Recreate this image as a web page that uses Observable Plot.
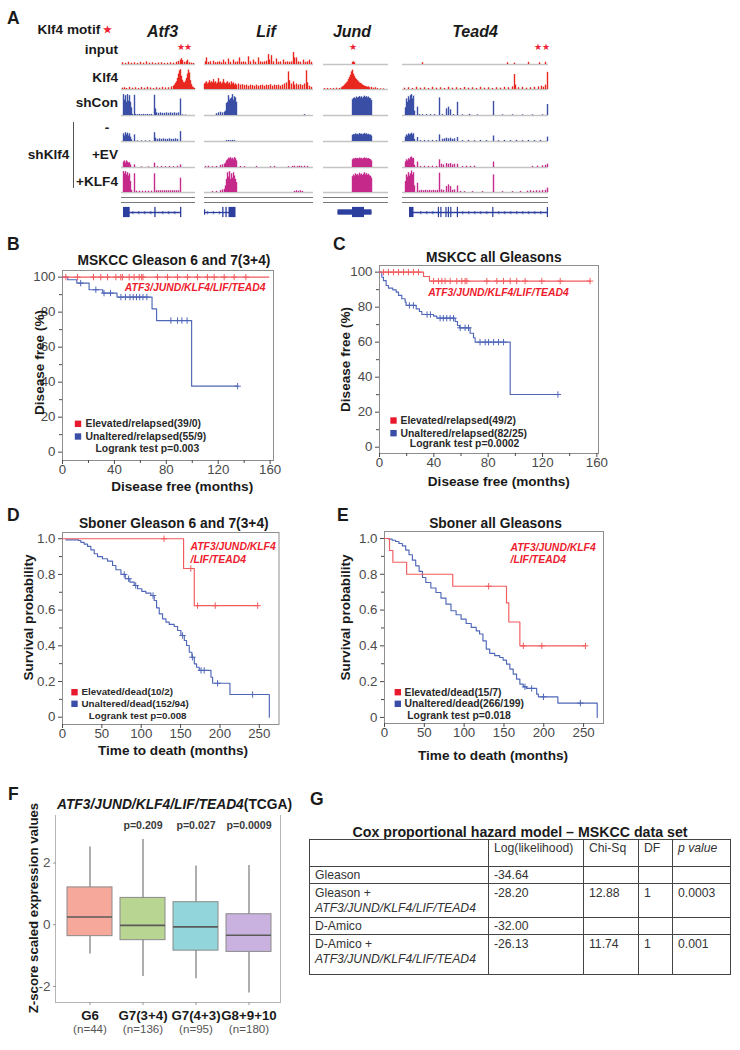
<!DOCTYPE html>
<html>
<head>
<meta charset="utf-8">
<script src="https://cdn.jsdelivr.net/npm/d3@7"></script>
<script src="https://cdn.jsdelivr.net/npm/@observablehq/plot@0.6"></script>
<style>
html,body{margin:0;padding:0;background:#fff;}
#root{position:relative;width:740px;height:1050px;overflow:hidden;font-family:"Liberation Sans",Arial,Helvetica,sans-serif;}
#root svg{position:absolute;}
table.cox{border-collapse:collapse;table-layout:fixed;position:absolute;border:1.5px solid #333;}
table.cox td{border:1px solid #444;vertical-align:top;padding:1px 3px 0 5px;font-size:12.2px;line-height:14.5px;color:#333;white-space:nowrap;overflow:hidden;font-family:"Liberation Sans",Arial,sans-serif;}
</style>
</head>
<body>
<div id="root"></div>
<script>
// ======================= DATA =======================
// ---- Panel A: ChIP/RNA coverage tracks, [locus bin, relative height] ----
const aGenes = ["Atf3", "Lif", "Jund", "Tead4"];
const aTracks = ["input", "Klf4", "shCon", "-", "+EV", "+KLF4"];
const aBins = [74, 109, 65, 146];
const aMotifs = [[59, 66], [], [29], [135, 143]];

const atf3Input = [[1,0.08],[4,0.05],[7,0.1],[10,0.06],[13,0.08],[16,0.05],[19,0.1],[22,0.06],[25,0.12],[28,0.06],[31,0.08],[34,0.05],[37,0.07],[40,0.08],[43,0.05],[46,0.06],[49,0.08],[52,0.06],[55,0.1],[57,0.14],[59,0.2],[60,0.26],[61,0.18],[63,0.1],[65,0.12],[66,0.2],[68,0.08],[70,0.06],[72,0.05]];
const atf3Klf4 = [[1,0.06],[3,0.08],[5,0.05],[8,0.1],[11,0.06],[14,0.08],[17,0.05],[20,0.09],[23,0.06],[26,0.1],[29,0.07],[32,0.05],[35,0.08],[38,0.06],[41,0.1],[44,0.07],[47,0.08],[50,0.12],[52,0.15],[53,0.2],[54,0.28],[55,0.35],[56,0.5],[57,0.7],[58,0.85],[59,0.9],[60,0.6],[61,0.42],[62,0.32],[63,0.3],[64,0.38],[65,0.5],[66,0.7],[67,0.88],[68,0.75],[69,0.4],[70,0.22],[71,0.12],[72,0.08],[73,0.05]];
const atf3ShCon = [[2,0.95],[3,0.7],[4,0.9],[5,0.6],[6,0.95],[7,0.65],[8,0.9],[9,0.6],[10,0.35],[11,0.05],[13,0.92],[14,0.05],[16,0.04],[18,0.05],[20,0.04],[22,0.05],[24,0.04],[26,0.05],[28,0.04],[30,0.05],[33,0.92],[34,0.3],[35,0.12],[37,0.1],[39,0.12],[41,0.1],[43,0.1],[45,0.12],[47,0.1],[49,0.12],[51,0.1],[53,0.12],[55,0.1],[57,0.12],[59,0.75],[61,0.03],[64,0.02]];
const atf3Minus = [[2,0.35],[3,0.25],[4,0.4],[5,0.3],[6,0.38],[7,0.25],[8,0.35],[9,0.2],[10,0.08],[13,0.3],[16,0.03],[20,0.03],[24,0.03],[28,0.03],[33,0.4],[34,0.15],[36,0.1],[38,0.12],[40,0.1],[42,0.12],[44,0.1],[46,0.1],[48,0.12],[50,0.1],[52,0.1],[54,0.12],[56,0.1],[59,0.45]];
const atf3EV = [[2,0.25],[3,0.3],[4,0.2],[5,0.3],[6,0.25],[7,0.2],[8,0.22],[9,0.12],[13,0.12],[20,0.03],[27,0.03],[33,0.2],[36,0.04],[40,0.05],[44,0.04],[48,0.05],[52,0.04],[56,0.05],[59,0.12]];
const atf3KLF4 = [[2,0.95],[3,0.85],[4,0.95],[5,0.8],[6,0.9],[7,0.75],[8,0.85],[9,0.5],[10,0.1],[13,0.85],[15,0.06],[18,0.06],[21,0.06],[24,0.06],[27,0.06],[30,0.06],[33,0.85],[35,0.08],[37,0.08],[39,0.08],[41,0.08],[43,0.08],[45,0.08],[47,0.08],[49,0.08],[51,0.08],[53,0.08],[55,0.08],[57,0.08],[59,0.65]];

const lifInput = [[1,0.12],[2,0.3],[4,0.1],[6,0.12],[9,0.15],[11,0.08],[13,0.1],[15,0.12],[17,0.08],[19,0.2],[21,0.1],[24,0.25],[26,0.1],[29,0.2],[31,0.1],[33,0.12],[35,0.3],[37,0.1],[39,0.12],[41,0.1],[44,0.35],[46,0.12],[49,0.2],[51,0.1],[54,0.3],[56,0.12],[58,0.1],[60,0.12],[62,0.15],[64,0.45],[65,0.2],[67,0.4],[69,0.12],[72,0.25],[74,0.1],[76,0.12],[79,0.2],[81,0.1],[83,0.12],[85,0.1],[87,0.12],[89,0.55],[90,0.3],[92,0.3],[94,0.12],[96,0.1],[99,0.2],[101,0.1],[103,0.12],[105,0.2],[107,0.1]];
const lifKlf4 = [[0,0.25],[1,0.3],[2,0.35],[3,0.25],[4,0.3],[5,0.4],[6,0.3],[7,0.35],[8,0.3],[9,0.45],[10,0.3],[11,0.35],[12,0.25],[13,0.3],[14,0.5],[15,0.3],[16,0.35],[17,0.25],[18,0.3],[19,0.45],[20,0.3],[21,0.25],[22,0.3],[23,0.35],[24,0.25],[25,0.3],[26,0.2],[27,0.35],[28,0.25],[29,0.3],[30,0.2],[31,0.25],[32,0.2],[34,0.25],[36,0.2],[38,0.22],[40,0.18],[42,0.2],[44,0.15],[46,0.2],[48,0.18],[50,0.15],[52,0.2],[54,0.15],[56,0.18],[58,0.2],[60,0.15],[62,0.2],[64,0.18],[66,0.22],[68,0.15],[70,0.2],[72,0.18],[74,0.2],[76,0.15],[78,0.2],[80,0.25],[82,0.3],[84,0.8],[85,0.4],[87,0.25],[89,0.35],[90,0.2],[92,0.25],[94,0.2],[96,0.22],[98,0.18],[100,0.25],[102,0.85],[103,0.3],[105,0.15],[107,0.1]];
const lifShCon = [[12,0.08],[14,0.12],[16,0.15],[18,0.12],[20,0.15],[21,0.2],[22,0.55],[23,0.6],[24,0.9],[25,0.7],[26,0.75],[27,0.8],[28,0.95],[29,0.7],[30,0.85],[31,0.8],[32,0.6],[100,0.04]];
const lifMinus = [[22,0.04],[24,0.05],[26,0.04],[28,0.05],[30,0.04]];
const lifEV = [[1,0.05],[4,0.06],[8,0.04],[12,0.05],[16,0.1],[18,0.12],[20,0.15],[21,0.2],[22,0.3],[23,0.35],[24,0.42],[25,0.4],[26,0.45],[27,0.38],[28,0.42],[29,0.35],[30,0.45],[31,0.4],[32,0.3],[36,0.05],[40,0.04],[52,0.05],[66,0.04],[70,0.05],[84,0.04],[88,0.05],[90,0.06],[93,0.05],[95,0.06],[97,0.05],[100,0.06],[103,0.05]];
const lifKLF4 = [[8,0.04],[12,0.05],[16,0.08],[18,0.12],[20,0.15],[21,0.3],[22,0.6],[23,0.9],[24,0.7],[25,0.95],[26,0.6],[27,0.85],[28,0.65],[29,0.9],[30,0.75],[31,0.6],[32,0.45],[90,0.05],[92,0.08],[94,0.06],[96,0.08],[98,0.05]];

const jundInput = [[29,0.1],[30,0.12],[31,0.08]];
const jundKlf4 = [[1,0.04],[4,0.05],[7,0.04],[10,0.05],[13,0.06],[16,0.05],[18,0.08],[19,0.12],[20,0.15],[21,0.2],[22,0.25],[23,0.3],[24,0.35],[25,0.45],[26,0.55],[27,0.65],[28,0.8],[29,0.88],[30,0.7],[31,0.6],[32,0.5],[33,0.45],[34,0.4],[35,0.35],[36,0.3],[37,0.28],[38,0.25],[39,0.2],[40,0.18],[41,0.15],[42,0.14],[43,0.12],[44,0.1],[45,0.12],[46,0.08],[48,0.1],[50,0.06],[52,0.08],[54,0.04],[57,0.03],[60,0.03]];
const jundShCon = [[29,0.72],[30,0.78],[31,0.8],[32,0.76],[33,0.84],[34,0.79],[35,0.82],[36,0.86],[37,0.8],[38,0.85],[39,0.78],[40,0.83],[41,0.88],[42,0.82],[43,0.86],[44,0.8],[45,0.84],[46,0.78],[47,0.76],[48,0.68]];
const jundMinus = [[29,0.28],[30,0.32],[31,0.3],[32,0.35],[33,0.31],[34,0.33],[35,0.3],[36,0.36],[37,0.32],[38,0.34],[39,0.3],[40,0.33],[41,0.37],[42,0.32],[43,0.35],[44,0.3],[45,0.33],[46,0.29],[47,0.3],[48,0.25]];
const jundEV = [[29,0.35],[30,0.4],[31,0.38],[32,0.42],[33,0.4],[34,0.41],[35,0.39],[36,0.43],[37,0.4],[38,0.42],[39,0.38],[40,0.41],[41,0.44],[42,0.4],[43,0.42],[44,0.39],[45,0.41],[46,0.37],[47,0.36],[48,0.3]];
const jundKLF4 = [[29,0.72],[30,0.8],[31,0.75],[32,0.85],[33,0.78],[34,0.82],[35,0.76],[36,0.88],[37,0.8],[38,0.84],[39,0.77],[40,0.83],[41,0.9],[42,0.8],[43,0.86],[44,0.78],[45,0.83],[46,0.76],[47,0.74],[48,0.65]];

const tead4Input = [[20,0.08],[105,0.08],[112,0.06],[126,0.1],[137,0.08],[143,0.1]];
const tead4Klf4 = [[2,0.06],[6,0.08],[10,0.05],[14,0.1],[18,0.06],[22,0.08],[26,0.05],[30,0.1],[34,0.06],[38,0.08],[42,0.05],[46,0.1],[50,0.06],[54,0.08],[58,0.05],[62,0.09],[66,0.06],[70,0.08],[74,0.05],[78,0.1],[82,0.06],[86,0.08],[90,0.05],[94,0.08],[98,0.06],[102,0.1],[106,0.08],[110,0.12],[112,0.68],[113,0.2],[116,0.08],[120,0.1],[124,0.06],[128,0.08],[132,0.1],[136,0.12],[139,0.15],[141,0.1],[143,0.2],[145,0.78]];
const tead4ShCon = [[3,0.35],[4,0.75],[5,0.6],[6,0.85],[7,0.7],[8,0.9],[9,0.95],[10,0.75],[11,0.88],[12,0.2],[15,0.38],[17,0.04],[20,0.04],[24,0.04],[28,0.04],[32,0.04],[37,0.8],[40,0.04],[44,0.3],[46,0.38],[48,0.26],[51,0.04],[55,0.6],[60,0.03],[67,0.05],[75,0.03],[91,0.64],[100,0.03],[110,0.03],[120,0.03],[130,0.03],[140,0.03],[145,0.5]];
const tead4Minus = [[3,0.2],[4,0.3],[5,0.25],[6,0.35],[7,0.3],[8,0.33],[9,0.38],[10,0.3],[11,0.35],[12,0.1],[15,0.18],[18,0.04],[22,0.05],[26,0.04],[30,0.05],[34,0.04],[37,0.3],[40,0.1],[42,0.12],[44,0.15],[46,0.12],[48,0.15],[50,0.1],[52,0.12],[55,0.18],[60,0.04],[66,0.05],[72,0.04],[78,0.05],[84,0.04],[91,0.25],[96,0.04],[102,0.05],[108,0.04],[114,0.05],[120,0.04],[126,0.05],[132,0.04],[138,0.05],[145,0.2]];
const tead4EV = [[3,0.25],[4,0.35],[5,0.3],[6,0.4],[7,0.35],[8,0.45],[9,0.48],[10,0.4],[11,0.42],[12,0.1],[15,0.25],[18,0.05],[22,0.06],[26,0.05],[30,0.06],[34,0.05],[37,0.35],[39,0.15],[41,0.12],[44,0.18],[46,0.15],[48,0.18],[50,0.12],[52,0.15],[55,0.15],[60,0.05],[64,0.06],[68,0.05],[72,0.06],[91,0.25],[130,0.05],[135,0.06],[140,0.08],[143,0.1],[145,0.15]];
const tead4KLF4 = [[3,0.5],[4,0.8],[5,0.7],[6,0.9],[7,0.75],[8,0.85],[9,0.98],[10,0.8],[11,0.9],[12,0.3],[15,0.42],[17,0.08],[19,0.1],[21,0.08],[23,0.1],[25,0.08],[27,0.1],[29,0.08],[31,0.1],[33,0.08],[35,0.1],[37,0.88],[39,0.12],[41,0.1],[44,0.27],[46,0.35],[48,0.27],[50,0.1],[52,0.12],[55,0.3],[58,0.05],[62,0.04],[70,0.04],[80,0.04],[91,0.8],[100,0.04],[110,0.04],[118,0.05],[125,0.06],[128,0.08],[131,0.06],[134,0.08],[137,0.07],[140,0.09],[143,0.1],[145,0.2]];

// gene models: intron span and exons [start, end, kind]
const atf3Model = {span: [8, 60], strand: "-", exons: [[2, 8.7, "cds"], [33.3, 34.6, "cds"], [59, 60.3, "cds"]]};
const lifModel = {span: [0, 25], strand: "+", exons: [[0, 1.2, "utr"], [18.2, 19.5, "cds"], [21.4, 22.7, "cds"], [24.5, 31.5, "cds"]]};
const jundModel = {span: [14.5, 48.5], strand: "+", exons: [[14.5, 48.5, "utr"], [29, 41, "cds"]]};
const tead4Model = {span: [9, 146], strand: "-", exons: [[7, 11.5, "cds"], [35.8, 37, "cds"], [38.3, 39.5, "cds"], [43.4, 44.6, "cds"], [45.8, 47, "cds"], [48.2, 49.4, "cds"], [54.8, 56, "cds"], [90.2, 91.4, "cds"], [144.8, 146, "cds"]]};

// ---- Panels B–E: Kaplan–Meier curves (event times, survival after each step) ----
const bTitle = "MSKCC Gleason 6 and 7(3+4)";
const bRedT = [0], bRedS = [100], bRedEnd = 159;
const bRedCens = [2.6, 11.6, 23.9, 29.5, 34.7, 41.1, 44.9, 46.2, 51.4, 55.2, 59.1, 61, 62, 73.2, 80.9, 88.6, 96.3, 104, 111.7, 116.9, 124.6, 132.3, 141.3];
const bBlueT = [0, 4, 11, 20.5, 31, 42, 69, 72.5, 99.5];
const bBlueS = [100, 98.5, 96.6, 92.8, 90.9, 88.6, 81.9, 75.2, 37.7];
const bBlueEnd = 135;
const bBlueCens = [14, 25.7, 32, 37, 45, 48.5, 52, 54.5, 57, 59.5, 62, 65, 83.5, 88.6, 92, 96, 135];
const bLegend = ["Elevated/relapsed(39/0)", "Unaltered/relapsed(55/9)", "Logrank test p=0.003"];

const cTitle = "MSKCC all Gleasons";
const cRedT = [0, 32.4, 36.8], cRedS = [100, 97.5, 94.9], cRedEnd = 155;
const cRedCens = [3, 6.6, 10.3, 14, 17.7, 21.3, 25, 28.7, 39.8, 43.4, 45.9, 48.3, 52, 56.9, 60.6, 63, 64.3, 79, 86.4, 91.3, 96.2, 101, 107.2, 119.5, 133, 155];
const cBlueT = [0, 1.7, 2.9, 4.9, 6.6, 9.8, 12.3, 14, 16.4, 18.9, 19.6, 27, 29.4, 31.2, 39.8, 42.2, 55.7, 57.4, 58.9, 66.7, 69.2, 70.4, 96.2];
const cBlueS = [100, 97.1, 95.2, 92.4, 90.9, 89.9, 88.6, 86.7, 84.8, 82.9, 81, 79, 77.5, 75.8, 74.9, 73.7, 71.8, 69.5, 68.2, 65.1, 62.5, 60, 30.1];
const cBlueEnd = 131.3;
const cBlueCens = [22, 25, 35, 37.5, 44.6, 47, 49.5, 52, 54.5, 59.4, 63, 65.5, 74, 77.8, 80.3, 84, 87.6, 91.3, 131.3];
const cLegend = ["Elevated/relapsed(49/2)", "Unaltered/relapsed(82/25)", "Logrank test p=0.0002"];

const dTitle = "Sboner Gleason 6 and 7(3+4)";
const dRedT = [0, 153.8, 167.4], dRedS = [1, 0.833, 0.625], dRedEnd = 247.9;
const dRedCens = [129, 163, 171.6, 194, 247.9];
const dBlueT = [4.2, 20.3, 23.3, 27.5, 31.8, 36, 40.3, 44.5, 50.8, 57.2, 63.6, 67.8, 74.2, 79.7, 85.6, 91.1, 95.3, 100.8, 105.9, 112.3, 116.5, 119.5, 122.9, 127.1, 131.4, 135.6, 141.9, 146.2, 150.4, 154.7, 157.6, 161, 164.4, 167.4, 170.3, 173.7, 188.6, 190.7, 212.7, 262.7];
const dBlueS = [0.994, 0.99, 0.98, 0.97, 0.957, 0.938, 0.916, 0.9, 0.888, 0.875, 0.85, 0.826, 0.8, 0.776, 0.757, 0.738, 0.72, 0.705, 0.695, 0.682, 0.654, 0.613, 0.579, 0.551, 0.533, 0.52, 0.508, 0.486, 0.458, 0.43, 0.402, 0.364, 0.336, 0.299, 0.28, 0.262, 0.224, 0.19, 0.127, 0];
const dBlueEnd = 262.7;
const dBlueCens = [78.4, 84, 93, 115, 152.5, 165, 176, 180, 197, 241.5];
const dLegend = ["Elevated/dead(10/2)", "Unaltered/dead(152/94)", "Logrank test p=0.008"];

const eTitle = "Sboner all Gleasons";
const eRedT = [0, 6.3, 10.5, 27.8, 85.7, 153.2, 156.1, 170];
const eRedS = [1, 0.933, 0.867, 0.8, 0.733, 0.64, 0.533, 0.4];
const eRedEnd = 252.3;
const eRedCens = [130.8, 174.3, 197.5, 252.3];
const eBlueT = [0, 5.5, 9.7, 13.9, 18.1, 22.4, 26.6, 30.8, 35, 39.2, 43.5, 47.7, 51.9, 58.2, 64.6, 70.9, 77.2, 83.5, 89.9, 96.2, 102.5, 108.9, 115.2, 119.4, 123.6, 127.8, 132.1, 138.4, 144.7, 149, 153.2, 157.4, 161.6, 165.8, 170, 174.3, 178.5, 191.1, 193.2, 217.7, 267.1];
const eBlueS = [1, 0.996, 0.99, 0.983, 0.972, 0.959, 0.935, 0.909, 0.879, 0.847, 0.816, 0.782, 0.754, 0.723, 0.698, 0.667, 0.633, 0.596, 0.574, 0.549, 0.525, 0.503, 0.484, 0.466, 0.428, 0.382, 0.358, 0.345, 0.335, 0.32, 0.298, 0.27, 0.242, 0.214, 0.186, 0.171, 0.162, 0.13, 0.115, 0.08, 0];
const eBlueEnd = 267.1;
const eBlueCens = [176.4, 184.8, 199.6, 246];
const eLegend = ["Elevated/dead(15/7)", "Unaltered/dead(266/199)", "Logrank test p=0.018"];

const sigName = "ATF3/JUND/KLF4/LIF/TEAD4";
const sigLines = ["ATF3/JUND/KLF4", "/LIF/TEAD4"];

// ---- Panel F: boxplot summary (z-scores) ----
const fGroups = ["G6", "G7(3+4)", "G7(4+3)", "G8+9+10"];
const fN = [44, 136, 95, 180];
const fLow = [-0.95, -1.68, -1.75, -2.21];
const fQ1 = [-0.37, -0.5, -0.84, -0.88];
const fMed = [0.25, -0.02, -0.07, -0.34];
const fQ3 = [1.21, 0.87, 0.73, 0.34];
const fHigh = [2.52, 2.76, 1.9, 1.92];
const fP = ["", "p=0.209", "p=0.027", "p=0.0009"];
const fYTicks = [-2, 0, 2];

// ---- Panel G: Cox model table ----
const gHeader = ["", "Log(likelihood)", "Chi-Sq", "DF", "p value"];
const gModels = ["Gleason", "Gleason +", "D-Amico", "D-Amico +"];
const gAdded = ["", sigName, "", sigName];
const gLogLik = [-34.64, -28.20, -32.00, -26.13];
const gChiSq = [null, 12.88, null, 11.74];
const gDF = [null, 1, null, 1];
const gP = [null, "0.0003", null, "0.001"];

// ======================= RENDER =======================
const FONT = '"Liberation Sans", Arial, Helvetica, sans-serif';
const root = document.getElementById("root");

function txt(html, x, y, o = {}) {
  const d = document.createElement("div");
  d.innerHTML = html;
  const ax = o.anchor === "middle" ? -50 : o.anchor === "end" ? -100 : 0;
  Object.assign(d.style, {
    position: "absolute", left: x + "px", top: y + "px", fontFamily: FONT,
    fontSize: (o.size || 13) + "px", fontWeight: o.weight || "bold",
    fontStyle: o.italic ? "italic" : "normal", color: o.color || "#1a1a1a",
    whiteSpace: "nowrap", lineHeight: "1", transform: `translate(${ax}%, -50%)`
  });
  root.appendChild(d);
  return d;
}
function div(x, y, w, h, css) {
  const d = document.createElement("div");
  Object.assign(d.style, {position: "absolute", left: x + "px", top: y + "px", width: w + "px", height: h + "px", boxSizing: "border-box"}, css);
  root.appendChild(d);
  return d;
}
function place(svg) { root.appendChild(svg); return svg; }

// ---------- Panel A ----------
const aLeft = [121, 204, 323, 402];
const aBase = [63.5, 88.5, 114.5, 140.5, 166.5, 191.5];
const TRACK_RED = "#e8281f", TRACK_BLUE = "#3b4fa6", TRACK_MAG = "#c52b8c", GENE_BLUE = "#2c3f9e";
const trackColor = [TRACK_RED, TRACK_RED, TRACK_BLUE, TRACK_BLUE, TRACK_MAG, TRACK_MAG];
const aData = [
  [atf3Input, atf3Klf4, atf3ShCon, atf3Minus, atf3EV, atf3KLF4],
  [lifInput, lifKlf4, lifShCon, lifMinus, lifEV, lifKLF4],
  [jundInput, jundKlf4, jundShCon, jundMinus, jundEV, jundKLF4],
  [tead4Input, tead4Klf4, tead4ShCon, tead4Minus, tead4EV, tead4KLF4]
];
const aModels = [atf3Model, lifModel, jundModel, tead4Model];

aGenes.forEach((g, gi) => {
  aData[gi].forEach((tr, ti) => {
    const marks = [
      Plot.ruleY([0], {stroke: "#c4c4c4", strokeWidth: 1.5}),
      Plot.ruleX(tr, {x: d => d[0], y1: 0, y2: d => d[1], stroke: trackColor[ti], strokeWidth: 1.4})
    ];
    if (ti === 0 && aMotifs[gi].length) {
      marks.push(Plot.text(aMotifs[gi], {x: d => d, frameAnchor: "top", lineAnchor: "middle", dy: 5, text: () => "\u2605", fill: "#ee2233", fontSize: 9}));
    }
    place(Plot.plot({
      width: aBins[gi], height: 26, marginTop: 3, marginBottom: 1, marginLeft: 0, marginRight: 0,
      style: {left: aLeft[gi] + "px", top: (aBase[ti] - 25) + "px", background: "transparent", overflow: "visible"},
      x: {domain: [0, aBins[gi]], axis: null}, y: {domain: [0, 1], axis: null},
      marks
    }));
  });
  div(aLeft[gi], 196.5, aBins[gi], 6, {borderTop: "1.5px solid #7a7a7a", borderBottom: "1.5px solid #7a7a7a"});
  const m = aModels[gi];
  const half = k => k === "cds" ? 0.85 : 0.45;
  const chev = d3.range(m.span[0] + 3, m.span[1] - 1, 6).filter(x => !m.exons.some(e => x >= e[0] - 1.5 && x <= e[1] + 1.5));
  place(Plot.plot({
    width: aBins[gi], height: 14, marginTop: 1, marginBottom: 1, marginLeft: 0, marginRight: 0,
    style: {left: aLeft[gi] + "px", top: "204.5px", background: "transparent", overflow: "visible"},
    x: {domain: [0, aBins[gi]], axis: null}, y: {domain: [-1, 1], axis: null},
    marks: [
      Plot.ruleY([0], {x1: m.span[0], x2: m.span[1], stroke: GENE_BLUE, strokeWidth: 1.3}),
      Plot.text(chev, {x: d => d, y: 0, text: () => (m.strand === "-" ? "\u2039" : "\u203A"), fill: GENE_BLUE, fontSize: 8}),
      Plot.rect(m.exons, {x1: d => d[0], x2: d => d[1], y1: d => -half(d[2]), y2: d => half(d[2]), fill: GENE_BLUE})
    ]
  }));
});

txt("A", 7, 19, {size: 17.5});
txt("Klf4 motif", 37.5, 30, {size: 13.6});
txt("\u2605", 107, 29.5, {size: 9.5, color: "#ee2233", anchor: "middle"});
const aTitleX = [162.5, 266, 352, 475];
aGenes.forEach((g, gi) => txt(g, aTitleX[gi], 31.7, {size: 16, italic: true, anchor: "middle"}));
const aLabelY = [50, 78.3, 103.3, 128.3, 155, 181.7];
aTracks.forEach((t, ti) => {
  if (t === "-") txt(t, 107, aLabelY[ti], {size: 13.6, anchor: "middle"});
  else txt(t, 118, aLabelY[ti], {size: 13.6, anchor: "end"});
});
txt("shKlf4", 27.8, 155, {size: 13.6});
div(72.5, 121.7, 1.4, 66.6, {background: "#555"});

// ---------- Panels B–E ----------
const KM_RED = "#f25b5e", KM_BLUE = "#4f67b8", LEG_RED = "#e8192c", LEG_BLUE = "#3a4ea8", SIG_RED = "#ee1c2e";

function kmSeries(T, S, end) {
  const pts = T.map((t, i) => ({t, s: S[i]}));
  pts.push({t: end, s: S[S.length - 1]});
  return pts;
}
function stepAt(T, S, t) {
  let v = S[0];
  for (let i = 0; i < T.length; i++) if (T[i] <= t) v = S[i];
  return v;
}

function kmPanel(p) {
  const [fx0, fx1, fy0, fy1] = p.frame;
  const ml = 70, mr = 30, mt = 40, mb = 45;
  const at = (X, Y, ta = "middle") => ({frameAnchor: "top-left", dx: X - fx0, dy: Y - fy0, textAnchor: ta, lineAnchor: "middle"});
  const marks = [
    Plot.frame({stroke: "#8e8e8e"}),
    Plot.axisX({ticks: p.xTicks, tickSize: 4, tickPadding: 0, tickFormat: d => String(d), label: null, fontSize: 13.3}),
    Plot.axisY({ticks: p.yTicks, tickSize: 4, tickPadding: 3, tickFormat: p.yFmt, label: null, fontSize: 13.3}),
    Plot.axisY({ticks: p.yMinor, tickSize: 3, tickFormat: () => "", label: null})
  ];
  if (p.xMinor) marks.push(Plot.axisX({ticks: p.xMinor, tickSize: 3, tickFormat: () => "", label: null}));
  for (const [ser, color] of [[p.blue, KM_BLUE], [p.red, KM_RED]]) {
    marks.push(Plot.line(kmSeries(ser.T, ser.S, ser.end), {x: "t", y: "s", curve: "step-after", stroke: color, strokeWidth: 1.15}));
    marks.push(Plot.dot(ser.cens, {x: d => d, y: d => stepAt(ser.T, ser.S, d), symbol: "plus", r: 2.2, stroke: color, strokeWidth: 1}));
  }
  marks.push(Plot.text([p.title], {...at(...p.titleXY), fontSize: 13.8, fontWeight: "bold", fill: "#1a1a1a"}));
  marks.push(Plot.text([p.xLabel], {...at(...p.xLabelXY), fontSize: 13.6, fontWeight: "bold", fill: "#1a1a1a"}));
  marks.push(Plot.text([p.yLabel], {...at(...p.yLabelXY), rotate: -90, fontSize: 13.6, fontWeight: "bold", fill: "#1a1a1a"}));
  const L = p.leg;
  marks.push(Plot.dot([0], {frameAnchor: "top-left", dx: L.sq - fx0, dy: L.y[0] - fy0, symbol: "square", r: 3.6, fill: LEG_RED}));
  marks.push(Plot.dot([0], {frameAnchor: "top-left", dx: L.sq - fx0, dy: L.y[1] - fy0, symbol: "square", r: 3.6, fill: LEG_BLUE}));
  marks.push(Plot.text([p.legend[0]], {...at(L.tx, L.y[0], "start"), fontSize: L.size, fontWeight: "bold", fill: "#2a2a2a"}));
  marks.push(Plot.text([p.legend[1]], {...at(L.tx, L.y[1], "start"), fontSize: L.size, fontWeight: "bold", fill: "#2a2a2a"}));
  marks.push(Plot.text([p.legend[2]], {...at(L.lr, L.y[2], "start"), fontSize: L.size, fontWeight: "bold", fill: "#2a2a2a"}));
  p.sig.forEach((line, i) => {
    marks.push(Plot.text([line], {...at(p.sigX, p.sigY[i], p.sigAnchor), fontSize: 10.4, fontWeight: "bold", fontStyle: "italic", fill: SIG_RED}));
  });
  place(Plot.plot({
    width: fx1 - fx0 + ml + mr, height: fy1 - fy0 + mt + mb,
    marginLeft: ml, marginRight: mr, marginTop: mt, marginBottom: mb,
    style: {left: (fx0 - ml) + "px", top: (fy0 - mt) + "px", background: "transparent", overflow: "visible", fontFamily: FONT, fontSize: "13.3px", color: "#4a4a4a"},
    x: {domain: p.xDomain}, y: {domain: p.yDomain},
    marks
  }));
}

const fmtInt = d => String(d);
const fmtProb = d => d === 0 ? "0" : d.toFixed(1);

kmPanel({
  frame: [62, 273, 270, 460], xDomain: [0, 162.6], yDomain: [-4.76, 103.8],
  xTicks: [0, 40, 80, 120, 160], xMinor: [20, 60, 100, 140], yTicks: [0, 20, 40, 60, 80, 100], yMinor: [10, 30, 50, 70, 90], yFmt: fmtInt,
  title: bTitle, titleXY: [173.5, 260], xLabel: "Disease free (months)", xLabelXY: [181.7, 486], yLabel: "Disease free (%)", yLabelXY: [39, 362],
  red: {T: bRedT, S: bRedS, end: bRedEnd, cens: bRedCens}, blue: {T: bBlueT, S: bBlueS, end: bBlueEnd, cens: bBlueCens},
  legend: bLegend, leg: {sq: 77.5, tx: 85, lr: 95, y: [423.3, 436, 448.3], size: 10.4},
  sig: [sigName], sigX: 265, sigY: [286.7], sigAnchor: "end"
});
kmPanel({
  frame: [379, 598, 265, 453], xDomain: [0, 161.2], yDomain: [-3.6, 103.8],
  xTicks: [0, 40, 80, 120, 160], xMinor: [20, 60, 100, 140], yTicks: [0, 20, 40, 60, 80, 100], yMinor: [10, 30, 50, 70, 90], yFmt: fmtInt,
  title: cTitle, titleXY: [493.3, 257], xLabel: "Disease free (months)", xLabelXY: [498.3, 481], yLabel: "Disease free (%)", yLabelXY: [345, 359],
  red: {T: cRedT, S: cRedS, end: cRedEnd, cens: cRedCens}, blue: {T: cBlueT, S: cBlueS, end: cBlueEnd, cens: cBlueCens},
  legend: cLegend, leg: {sq: 393, tx: 400, lr: 409.3, y: [420, 432.7, 443.3], size: 10.4},
  sig: [sigName], sigX: 568.3, sigY: [291.7], sigAnchor: "end"
});
kmPanel({
  frame: [62, 278.5, 532, 724], xDomain: [0, 275], yDomain: [-0.041, 1.035],
  xTicks: [0, 50, 100, 150, 200, 250], xMinor: null, yTicks: [0, 0.2, 0.4, 0.6, 0.8, 1], yMinor: [0.1, 0.3, 0.5, 0.7, 0.9], yFmt: fmtProb,
  title: dTitle, titleXY: [173.3, 523], xLabel: "Time to death (months)", xLabelXY: [172.5, 750], yLabel: "Survival probability", yLabelXY: [28, 617],
  red: {T: dRedT, S: dRedS, end: dRedEnd, cens: dRedCens}, blue: {T: dBlueT, S: dBlueS, end: dBlueEnd, cens: dBlueCens},
  legend: dLegend, leg: {sq: 74, tx: 81, lr: 88.3, y: [691.7, 703.3, 715], size: 9.8},
  sig: sigLines, sigX: 190, sigY: [546.5, 559], sigAnchor: "start"
});
kmPanel({
  frame: [384, 603, 531, 723], xDomain: [0, 275], yDomain: [-0.034, 1.039],
  xTicks: [0, 50, 100, 150, 200, 250], xMinor: null, yTicks: [0, 0.2, 0.4, 0.6, 0.8, 1], yMinor: [0.1, 0.3, 0.5, 0.7, 0.9], yFmt: fmtProb,
  title: eTitle, titleXY: [495, 523], xLabel: "Time to death (months)", xLabelXY: [492.5, 755], yLabel: "Survival probability", yLabelXY: [345, 617],
  red: {T: eRedT, S: eRedS, end: eRedEnd, cens: eRedCens}, blue: {T: eBlueT, S: eBlueS, end: eBlueEnd, cens: eBlueCens},
  legend: eLegend, leg: {sq: 397.3, tx: 404, lr: 406.7, y: [691.7, 703.3, 715], size: 10.4},
  sig: sigLines, sigX: 510, sigY: [546.7, 559.3], sigAnchor: "start"
});
txt("B", 7, 245, {size: 17.5});
txt("C", 333, 245, {size: 17.5});
txt("D", 7, 516, {size: 17.5});
txt("E", 337, 516, {size: 17.5});

// ---------- Panel F ----------
const fColors = ["#f6a99b", "#b8d592", "#92d6dc", "#c9b2df"];
const fBoxes = fGroups.map((g, i) => ({group: g, lo: fLow[i], q1: fQ1[i], med: fMed[i], q3: fQ3[i], hi: fHigh[i]}));
div(55, 815, 225.5, 187.5, {borderLeft: "1.3px solid #b5b5b5", borderRight: "1.3px solid #b5b5b5", borderBottom: "1.3px solid #b5b5b5"});
place(Plot.plot({
  width: 300, height: 260, marginLeft: 56, marginRight: 20, marginTop: 25, marginBottom: 48,
  style: {left: "0px", top: "790px", background: "transparent", overflow: "visible", fontFamily: FONT, fontSize: "13.5px", color: "#555"},
  x: {domain: fGroups, range: [61.5, 276.3], paddingInner: 0.16, paddingOuter: 0.08},
  y: {domain: [-2.52, 3.54]},
  color: {domain: fGroups, range: fColors},
  marks: [
    Plot.axisY({ticks: fYTicks, tickSize: 3, tickPadding: 3, tickFormat: d => String(d), label: null, stroke: "#999", fontSize: 13.5}),
    Plot.axisX({tickSize: 3, tickFormat: () => "", label: null, stroke: "#999"}),
    Plot.ruleX(fBoxes, {x: "group", y1: "lo", y2: "hi", stroke: "#9a9a9a", strokeWidth: 1.6}),
    Plot.barY(fBoxes, {x: "group", y1: "q1", y2: "q3", fill: "group", stroke: "#8a8a8a", strokeWidth: 1}),
    Plot.tickY(fBoxes, {x: "group", y: "med", stroke: "#5a5a5a", strokeWidth: 1.6}),
    Plot.text(fGroups, {x: d => d, frameAnchor: "bottom", lineAnchor: "middle", dy: 13, fontSize: 13.3, fontWeight: "bold", fill: "#1a1a1a"}),
    Plot.text(fGroups, {x: d => d, text: (d, i) => `(n=${fN[i]})`, frameAnchor: "bottom", lineAnchor: "middle", dy: 26.3, fontSize: 11.6, fill: "#555"}),
    Plot.text(fGroups.filter((g, i) => fP[i]), {x: d => d, text: d => fP[fGroups.indexOf(d)], frameAnchor: "top", lineAnchor: "middle", dy: 10, fontSize: 10.6, fontWeight: "bold", fill: "#3a3a3a"}),
    Plot.text(["Z-score scaled expression values"], {frameAnchor: "left", textAnchor: "middle", lineAnchor: "middle", dx: -23, dy: -1, rotate: -90, fontSize: 13.2, fontWeight: "bold", fill: "#1a1a1a"})
  ]
}));
txt("F", 8, 795, {size: 17.5});
txt(`<span style="font-style:italic">${sigName}</span>(TCGA)`, 57, 805, {size: 13.8});

// ---------- Panel G ----------
txt("G", 310, 800, {size: 17.5});
txt("Cox proportional hazard model \u2013 MSKCC data set", 520, 832, {size: 14.2, anchor: "middle"});
const table = document.createElement("table");
table.className = "cox";
Object.assign(table.style, {left: "309px", top: "839px", width: "421px"});
const cg = document.createElement("colgroup");
[179, 95, 55, 34, 58].forEach(w => { const c = document.createElement("col"); c.style.width = w + "px"; cg.appendChild(c); });
table.appendChild(cg);
const rowH = [27, 17, 34, 17, 40];
const hdr = document.createElement("tr");
hdr.style.height = rowH[0] + "px";
gHeader.forEach((h, i) => {
  const td = document.createElement("td");
  td.textContent = h;
  if (i === 4) td.style.fontStyle = "italic";
  hdr.appendChild(td);
});
table.appendChild(hdr);
gModels.forEach((m, i) => {
  const tr = document.createElement("tr");
  tr.style.height = rowH[i + 1] + "px";
  const c0 = document.createElement("td");
  c0.textContent = m;
  if (gAdded[i]) {
    c0.appendChild(document.createElement("br"));
    const it = document.createElement("i");
    it.textContent = gAdded[i];
    c0.appendChild(it);
    c0.style.paddingTop = "2px";
  }
  tr.appendChild(c0);
  [gLogLik[i].toFixed(2), gChiSq[i] == null ? "" : gChiSq[i].toFixed(2), gDF[i] == null ? "" : String(gDF[i]), gP[i] || ""].forEach(v => {
    const td = document.createElement("td");
    td.textContent = v;
    if (gAdded[i]) td.style.paddingTop = "2px";
    tr.appendChild(td);
  });
  table.appendChild(tr);
});
root.appendChild(table);
</script>
</body>
</html>
